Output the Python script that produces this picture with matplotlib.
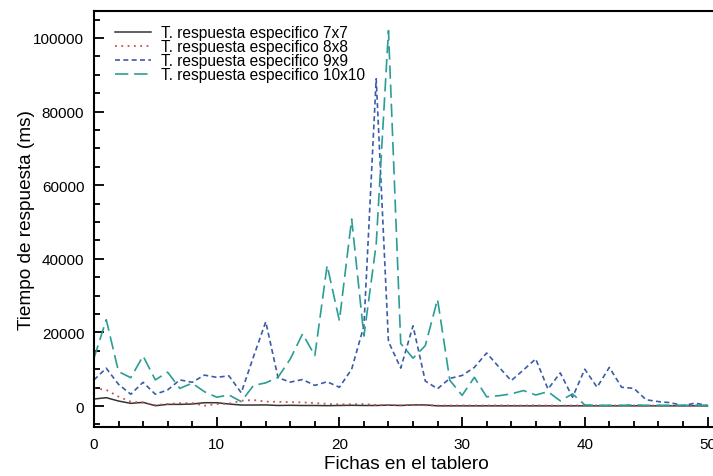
import matplotlib
matplotlib.use("Agg")
import matplotlib.pyplot as plt
from matplotlib.ticker import MultipleLocator

plt.rcParams['font.family'] = ['Liberation Sans', 'DejaVu Sans']

# Fichas en el tablero
fichas = list(range(51))

t7x7 = [1900, 2270, 1360, 730, 1000, 90, 450, 450, 550, 900,
        900, 550, 270, 270, 300, 150, 200, 150, 150, 100,
        150, 200, 150, 150, 250, 150, 300, 300, 50, 50,
        50, 50, 50, 50, 50, 50, 50, 50, 50, 50,
        50, 50, 50, 50, 50, 50, 50, 50, 50, 50, 50]

t8x8 = [4800, 4400, 2550, 1180, 900, 270, 550, 800, 800, 90,
        540, 640, 1450, 1640, 1200, 1150, 1050, 1000, 800, 600,
        450, 500, 540, 300, 250, 200, 300, 200, 150, 150,
        200, 150, 150, 200, 150, 150, 200, 150, 100, 150,
        200, 150, 150, 150, 150, 100, 150, 100, 150, 200, 100]

t9x9 = [7100, 10270, 5900, 3200, 6450, 3200, 4360, 7100, 6450, 8400,
        7800, 8200, 3600, 13400, 22900, 7700, 6500, 7200, 5600, 6600,
        5100, 10000, 21800, 88900, 17500, 10300, 21800, 6800, 4700, 7500,
        8300, 10500, 14400, 10600, 6900, 9800, 12800, 4600, 9000, 2400,
        10000, 5100, 10500, 5100, 4800, 1700, 1200, 900, 100, 800, 100]

t10x10 = [13000, 23450, 9360, 7700, 13600, 7100, 9200, 4800, 6200, 3900,
          2400, 3000, 1200, 5600, 6300, 7800, 12800, 19600, 13700, 38200,
          23200, 50800, 19000, 44000, 102000, 17000, 13000, 16400, 29000, 7000,
          2900, 7800, 2500, 2800, 3300, 4200, 3000, 3900, 1400, 3300,
          300, 200, 200, 200, 300, 200, 200, 200, 200, 200, 200]

fig = plt.figure(figsize=(7.13, 4.77), dpi=100)
ax = fig.add_axes([0.1318, 0.1027, 0.8777, 0.872])

ax.plot(fichas, t7x7, color='#333333', lw=1.1, label='T. respuesta especifico 7x7')
ax.plot(fichas, t8x8, color='#c8504f', lw=1.3, linestyle=(0, (1, 2.5)),
        label='T. respuesta especifico 8x8')
ax.plot(fichas, t9x9, color='#3b5ca8', lw=1.2, linestyle=(0, (3, 2)),
        label='T. respuesta especifico 9x9')
ax.plot(fichas, t10x10, color='#2a9d96', lw=1.2, linestyle=(0, (8, 3.5)),
        label='T. respuesta especifico 10x10')

ax.set_xlim(0, 51)
ax.set_ylim(-5700, 107300)
ax.xaxis.set_major_locator(MultipleLocator(10))
ax.xaxis.set_minor_locator(MultipleLocator(2))
ax.yaxis.set_major_locator(MultipleLocator(20000))
ax.yaxis.set_minor_locator(MultipleLocator(5000))
ax.tick_params(which='both', direction='in', width=1.3, labelsize=11, pad=7)
ax.tick_params(which='major', length=7)
ax.tick_params(which='minor', length=4)
ax.tick_params(top=False, right=False)
for s in ax.spines.values():
    s.set_linewidth(1.5)

ax.set_xlabel('Fichas en el tablero', fontsize=13.7, labelpad=3)
ax.set_ylabel('Tiempo de respuesta (ms)', fontsize=13.7, labelpad=-1)

ax.legend(loc='upper left', bbox_to_anchor=(0.012, 0.999), frameon=False,
          fontsize=11.2, handlelength=2.3, handletextpad=0.65, labelspacing=-0.07)

fig.savefig('out.png', dpi=100)
